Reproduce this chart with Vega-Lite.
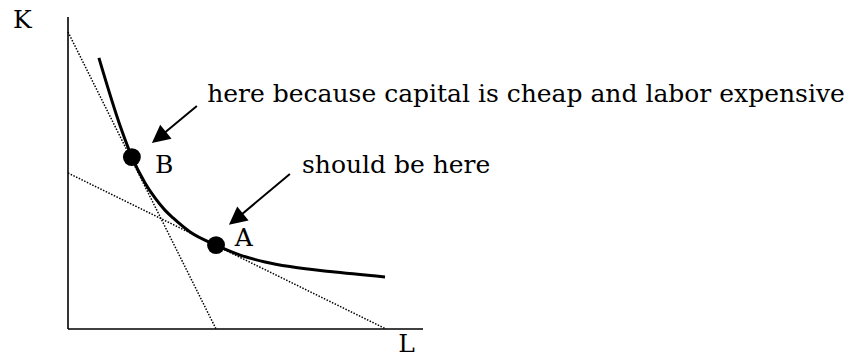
{
  "$schema": "https://vega.github.io/schema/vega-lite/v6.json",
  "width": 355,
  "height": 312,
  "autosize": {"type": "none"},
  "padding": {"left": 68, "top": 17, "right": 426, "bottom": 31},
  "background": "white",
  "config": {"view": {"stroke": null}},
  "datasets": {
    "axes": [
      {"axis": "K", "L": 0, "K": 0, "L2": 0, "K2": 10},
      {"axis": "L", "L": 0, "K": 0, "L2": 10, "K2": 0}
    ],
    "isoquant": [
      {"L": 0.87, "K": 8.69},
      {"L": 1.49, "K": 6.44},
      {"L": 1.8, "K": 5.51},
      {"L": 2.17, "K": 4.68},
      {"L": 2.45, "K": 4.2},
      {"L": 2.73, "K": 3.81},
      {"L": 2.96, "K": 3.56},
      {"L": 3.44, "K": 3.11},
      {"L": 4.17, "K": 2.69},
      {"L": 4.85, "K": 2.37},
      {"L": 5.55, "K": 2.15},
      {"L": 6.25, "K": 2.0},
      {"L": 7.38, "K": 1.84},
      {"L": 8.93, "K": 1.67}
    ],
    "isocost": [
      {"line": "steep", "L": 0, "K": 9.52, "L2": 4.17, "K2": 0},
      {"line": "flat", "L": 0, "K": 5.0, "L2": 8.96, "K2": 0}
    ],
    "choices": [
      {"point": "B", "L": 1.8, "K": 5.51},
      {"point": "A", "L": 4.17, "K": 2.69}
    ],
    "shafts": [
      {"arrow": "B", "L": 3.63, "K": 7.15, "L2": 2.56, "K2": 6.14},
      {"arrow": "A", "L": 6.25, "K": 4.97, "L2": 4.73, "K2": 3.52}
    ],
    "labels": [
      {"text": "K", "L": -1.55, "K": 9.65},
      {"text": "L", "L": 9.3, "K": -0.74},
      {"text": "B", "L": 2.45, "K": 5.0},
      {"text": "A", "L": 4.7, "K": 2.66},
      {"text": "here because capital is cheap and labor expensive", "L": 3.92, "K": 7.28},
      {"text": "should be here", "L": 6.59, "K": 5.0}
    ]
  },
  "encoding": {
    "x": {"field": "L", "type": "quantitative", "scale": {"domain": [0, 10], "nice": false, "zero": false}, "axis": null},
    "y": {"field": "K", "type": "quantitative", "scale": {"domain": [0, 10], "nice": false, "zero": false}, "axis": null}
  },
  "layer": [
    {
      "data": {"name": "axes"},
      "mark": {"type": "rule", "color": "black", "strokeWidth": 1.6, "clip": false},
      "encoding": {"x2": {"field": "L2"}, "y2": {"field": "K2"}}
    },
    {
      "data": {"name": "isocost"},
      "mark": {"type": "rule", "color": "black", "strokeWidth": 1.5, "strokeDash": [1.5, 1.5]},
      "encoding": {"x2": {"field": "L2"}, "y2": {"field": "K2"}}
    },
    {
      "data": {"name": "isoquant"},
      "mark": {"type": "line", "color": "black", "strokeWidth": 3, "interpolate": "monotone"},
      "encoding": {"order": {"field": "L", "type": "quantitative"}}
    },
    {
      "data": {"name": "choices"},
      "mark": {"type": "point", "shape": "circle", "filled": true, "color": "black", "opacity": 1, "size": 320}
    },
    {
      "data": {"name": "shafts"},
      "mark": {"type": "rule", "color": "black", "strokeWidth": 2},
      "encoding": {"x2": {"field": "L2"}, "y2": {"field": "K2"}}
    },
    {
      "data": {"name": "shafts"},
      "mark": {"type": "point", "shape": "M0,-1L1,1L-1,1Z", "filled": true, "color": "black", "opacity": 1, "size": 324, "angle": 231},
      "encoding": {"x": {"field": "L2", "type": "quantitative"}, "y": {"field": "K2", "type": "quantitative"}}
    },
    {
      "data": {"name": "labels"},
      "mark": {"type": "text", "align": "left", "baseline": "alphabetic", "font": "DejaVu Serif", "fontSize": 25, "color": "black"},
      "encoding": {"text": {"field": "text", "type": "nominal"}}
    }
  ]
}
